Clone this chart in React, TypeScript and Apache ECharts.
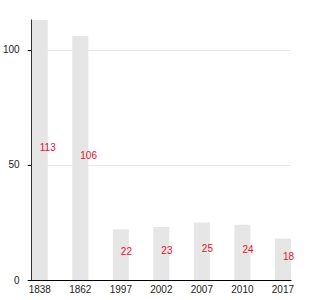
import React, { useEffect, useRef } from "react";
import * as echarts from "echarts";

const categories = ["1838", "1862", "1997", "2002", "2007", "2010", "2017"];
const values = [113, 106, 22, 23, 25, 24, 18];
const yTicks = [0, 50, 100];

export default function App() {
  const ref = useRef<HTMLDivElement>(null);
  useEffect(() => {
    if (!ref.current) return;
    const chart = echarts.init(ref.current, null, { renderer: "svg" });
    const idx = categories.map((_, i) => i);
    chart.setOption({
      animation: false,
      grid: { left: 31, right: 39, top: 20, bottom: 20, containLabel: false },
      xAxis: {
        type: "value",
        min: -0.2,
        max: 6.2,
        axisLine: { show: true, onZero: false, lineStyle: { color: "#000", width: 1 } },
        axisTick: { show: false, customValues: idx },
        splitLine: { show: false },
        axisLabel: {
          customValues: idx,
          formatter: (v: number) => categories[Math.round(v)] ?? "",
          color: "#222",
          fontSize: 10,
          fontFamily: "Liberation Sans",
          margin: 4,
        },
      },
      yAxis: {
        type: "value",
        min: 0,
        max: 113,
        axisLine: { show: true, onZero: false, lineStyle: { color: "#000", width: 1 } },
        axisTick: { show: true, length: 4, customValues: yTicks, lineStyle: { color: "#000" } },
        splitLine: { show: true, lineStyle: { color: "#e8e8e8", width: 1 } },
        axisLabel: {
          customValues: yTicks,
          color: "#222",
          fontSize: 10,
          fontFamily: "Liberation Sans",
          margin: 12,
        },
      },
      series: [
        {
          type: "bar",
          barWidth: 16,
          data: values.map((v, i) => [i, v]),
          itemStyle: { color: "#e6e6e6" },
          label: {
            show: true,
            position: "inside",
            align: "left",
            offset: [0, -3],
            color: "#e8102a",
            fontSize: 10,
            fontFamily: "Liberation Sans",
            formatter: (p: any) => String(p.value[1]),
          },
        },
      ],
    });
    return () => chart.dispose();
  }, []);
  return (
    <div
      ref={ref}
      style={{ position: "fixed", left: 0, top: 0, width: 330, height: 300, background: "#fff" }}
    />
  );
}
